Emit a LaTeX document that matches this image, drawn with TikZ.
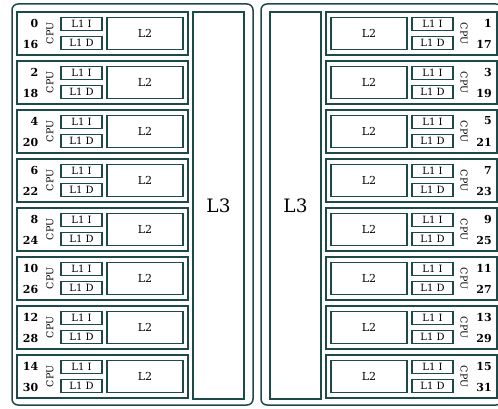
\documentclass[tikz,border=0pt]{standalone}
\usepackage{fontspec}
\setmainfont{DejaVu Serif}
\definecolor{edge}{RGB}{28,74,72}
\begin{document}
\begin{tikzpicture}[x=1pt,y=-1pt,
  frame/.style={draw=edge, line width=1.5pt, rounded corners=6pt, inner sep=0pt,
    minimum width=241pt, minimum height=401pt},
  l3box/.style={draw=edge, line width=1.4pt, inner sep=0pt, minimum width=51pt,
    minimum height=387pt, font=\fontsize{18.5}{18.5}\selectfont},
  cpubox/.style={draw=edge, line width=1.4pt, inner sep=0pt, minimum width=171pt,
    minimum height=43pt},
  l2box/.style={draw=edge, line width=1.4pt, inner sep=0pt, minimum width=76pt,
    minimum height=32pt, font=\fontsize{11}{11}\selectfont},
  l1box/.style={draw=edge, line width=1.4pt, inner sep=0pt, minimum width=41pt,
    minimum height=13pt, font=\fontsize{10}{10}\selectfont},
  cpulab/.style={inner sep=0pt, font=\fontsize{9.5}{9.5}\selectfont},
  num/.style={inner sep=0pt, anchor=east, font=\fontsize{11}{11}\selectfont\bfseries}]
\useasboundingbox (0,0) rectangle (498,409);
% outer frames
\node[frame] (lframe) at (132.5,204.5) {};
\node[frame] (rframe) at (381.5,204.5) {};
% L3 caches
\node[l3box] (ll3) at (218.5,205.5) {L3};
\node[l3box] (rl3) at (295.5,205.5) {L3};
% rows
\foreach \i in {0,...,7} {
  \pgfmathsetmacro\c{33.5+49*\i}
  \pgfmathtruncatemacro\la{2*\i}
  \pgfmathtruncatemacro\lb{16+2*\i}
  \pgfmathtruncatemacro\ra{2*\i+1}
  \pgfmathtruncatemacro\rb{17+2*\i}
  % left side
  \node[cpubox] (lcpu\i) at (102.5,\c) {};
  \node[l2box] (ll2\i) at (145,\c) {L2};
  \node[l1box] (ll1i\i) at (81.5,\c-9.5) {L1 I};
  \node[l1box] (ll1d\i) at (81.5,\c+9.5) {L1 D};
  \node[cpulab, rotate=90] (lcpulab\i) at (50,\c) {CPU};
  \node[num] (lnt\i) at (38.5,\c-10.5) {\la};
  \node[num] (lnb\i) at (38.5,\c+10.5) {\lb};
  % right side
  \node[cpubox] (rcpu\i) at (411.5,\c) {};
  \node[l2box] (rl2\i) at (369,\c) {L2};
  \node[l1box] (rl1i\i) at (432.5,\c-9.5) {L1 I};
  \node[l1box] (rl1d\i) at (432.5,\c+9.5) {L1 D};
  \node[cpulab, rotate=-90] (rcpulab\i) at (464,\c) {CPU};
  \node[num] (rnt\i) at (492,\c-10.5) {\ra};
  \node[num] (rnb\i) at (492,\c+10.5) {\rb};
}
\end{tikzpicture}
\end{document}
